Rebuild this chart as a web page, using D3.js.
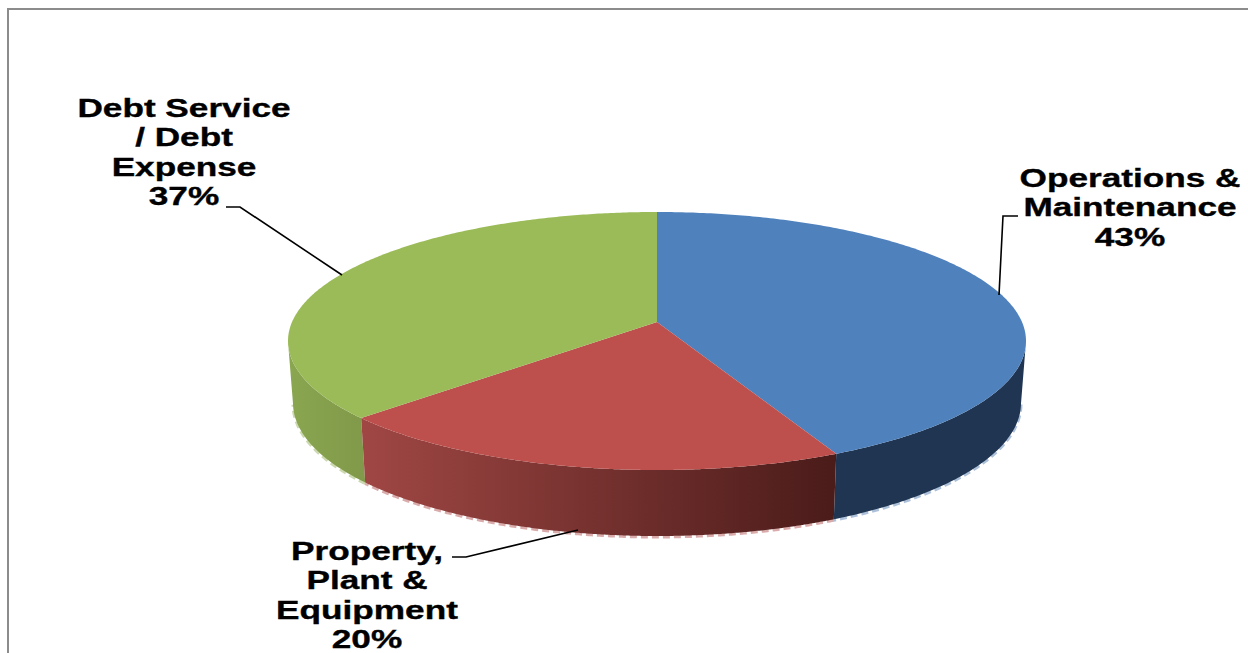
<!DOCTYPE html>
<html>
<head>
<meta charset="utf-8">
<title>Pie 3D</title>
<script src="https://cdn.jsdelivr.net/npm/d3@7/dist/d3.min.js"></script>
<style>
  html, body { margin: 0; padding: 0; background: #fff; overflow: hidden; }
  svg { display: block; }
  text { font-family: "Liberation Sans", Arial, sans-serif; font-weight: bold; fill: #000; stroke: #000; stroke-width: 0.35; }
</style>
</head>
<body>
<div id="chart"></div>
<script>
// Data
const categories = ['Operations & Maintenance', 'Property, Plant & Equipment', 'Debt Service / Debt Expense'];
const values = [43, 20, 37];
const topColors = ['#4f81bd', '#bd4f4c', '#9bbb59'];
const labelLines = [
    ['Operations &', 'Maintenance', '43%'],
    ['Property,', 'Plant &', 'Equipment', '20%'],
    ['Debt Service', '/ Debt', 'Expense', '37%']
];

// Layout
const W = 1248, H = 653;
const tilt = 0.147; // perspective shift of the pie centre
const fontSize = 25.5, stretch = 1.38, lineStep = 29.5;
const labelPos = [
    { x: 1130, y: 187 },
    { x: 367, y: 560 },
    { x: 184, y: 117 }
];
const leaders = [
    [[1018, 216], [1003, 216], [999, 295]],
    [[452, 557], [466, 557], [578, 530]],
    [[226, 207], [240, 207], [342, 275]]
];

const svg = d3.select('#chart').append('svg')
    .attr('width', W)
    .attr('height', H);

// Frame
svg.append('path')
    .attr('d', `M8,${H}V9H${W}`)
    .attr('fill', 'none')
    .attr('stroke', '#8c8c8c')
    .attr('stroke-width', 2);

// Escalas: disco unidad a pantalla, cara superior e inferior
const xTop = d3.scaleLinear().domain([-1, 1]).range([288, 1026]);
const yTop = d3.scaleLinear().domain([-1, 1]).range([212, 470]);
const xBottom = d3.scaleLinear().domain([-1, 1]).range([293, 1021]);
const yBottom = d3.scaleLinear().domain([-1, 1]).range([270, 536]);

// Angulo de la tarta a punto del disco, con perspectiva
function project(a) {
    const u = Math.sin(a), v = -Math.cos(a);
    const k = 1 - tilt * v;
    return { x: u * Math.sqrt(1 - tilt * tilt) / k, y: (v - tilt) / k };
}

const pie = d3.pie().sort(null).value(d => d);
const arcs = pie(values);
const samples = a => d3.range(0, 241).map(i => project(a.startAngle + (a.endAngle - a.startAngle) * i / 240));

const line = d3.line();
const defs = svg.append('defs');

function wallGradient(id, x1, x2, c1, c2) {
    const g = defs.append('linearGradient')
        .attr('id', id)
        .attr('gradientUnits', 'userSpaceOnUse')
        .attr('x1', x1).attr('x2', x2)
        .attr('y1', 0).attr('y2', 0);
    g.append('stop').attr('offset', 0).attr('stop-color', c1);
    g.append('stop').attr('offset', 1).attr('stop-color', c2);
}
wallGradient('wall0', 840, 1026, '#1f3552', '#1f3552');
wallGradient('wall1', 360, 842, '#a04744', '#491b19');
wallGradient('wall2', 290, 365, '#8aa650', '#80994a');

// Paredes laterales (solo la parte frontal)
[2, 0, 1].forEach(i => {
    const front = samples(arcs[i]).filter(p => p.y >= 0);
    const bottomEdge = front.map(p => [xBottom(p.x), yBottom(p.y)]);
    svg.append('path')
        .attr('d', line(bottomEdge))
        .attr('transform', 'translate(0,1)')
        .attr('fill', 'none')
        .attr('stroke', d3.color(topColors[i]).darker(0.3))
        .attr('stroke-opacity', 0.45)
        .attr('stroke-width', 3)
        .attr('stroke-dasharray', '7 4');
    svg.append('path')
        .attr('d', line(front.map(p => [xTop(p.x), yTop(p.y)]).concat(bottomEdge.reverse())) + 'Z')
        .attr('fill', `url(#wall${i})`);
});

// Cara superior
svg.selectAll('.slice')
    .data(arcs)
    .enter().append('path')
    .attr('class', 'slice')
    .attr('d', d => {
        const pts = samples(d).map(p => [xTop(p.x), yTop(p.y)]);
        const apex = [xTop(0), yTop(-tilt)];
        return line([apex].concat(pts)) + 'Z';
    })
    .attr('fill', (d, i) => topColors[i]);

// Lineas guia
svg.selectAll('.leader')
    .data(leaders)
    .enter().append('path')
    .attr('class', 'leader')
    .attr('d', d => line(d))
    .attr('fill', 'none')
    .attr('stroke', '#000')
    .attr('stroke-width', 1.6);

// Etiquetas
labelLines.forEach((lines, i) => {
    const g = svg.append('g')
        .attr('transform', `translate(${labelPos[i].x},${labelPos[i].y}) scale(${stretch},1)`);
    g.selectAll('text')
        .data(lines)
        .enter().append('text')
        .attr('y', (d, j) => j * lineStep)
        .attr('text-anchor', 'middle')
        .attr('font-size', fontSize)
        .text(d => d);
});
</script>
</body>
</html>
